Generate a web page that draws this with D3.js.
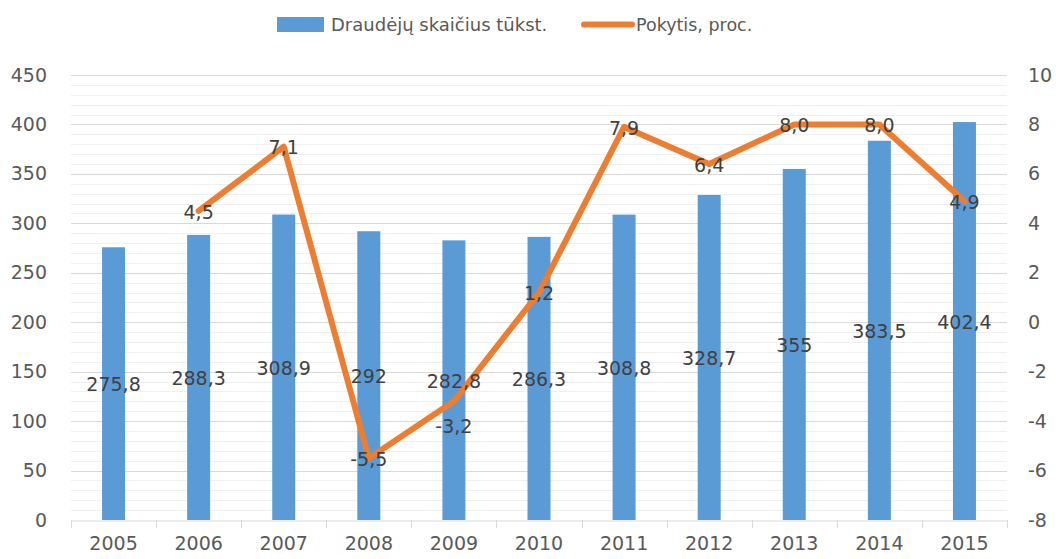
<!DOCTYPE html>
<html>
<head>
<meta charset="utf-8">
<script src="https://cdn.jsdelivr.net/npm/d3@7"></script>
<style>
  body { margin: 0; background: #fff; }
  svg { display: block; }
  svg text { font-family: "DejaVu Sans", sans-serif; }
</style>
</head>
<body>
<svg id="chart" width="1056" height="559"></svg>
<script>
var years = ['2005', '2006', '2007', '2008', '2009', '2010', '2011', '2012', '2013', '2014', '2015'];
var insured = [275.8, 288.3, 308.9, 292, 282.8, 286.3, 308.8, 328.7, 355, 383.5, 402.4];
var change = [null, 4.5, 7.1, -5.5, -3.2, 1.2, 7.9, 6.4, 8.0, 8.0, 4.9];
// Excel nudged the 2009 label below its point
var changeLabelDy = [0, 0, 0, 0, 24, 0, 0, 0, 0, 0, 0];
var leftTicks = [0, 50, 100, 150, 200, 250, 300, 350, 400, 450];
var rightTicks = [-8, -6, -4, -2, 0, 2, 4, 6, 8, 10];

var barColor = '#5b9bd5', lineColor = '#ed7d31';
var margin = { left: 71, right: 49, top: 75, bottom: 39 };
var W = 1056, H = 559;
var fs = '19px';

var svg = d3.select('#chart');

var x = d3.scaleBand().domain(years).range([margin.left, W - margin.right]);
var y = d3.scaleLinear().domain([0, 450]).range([H - margin.bottom, margin.top]);
var y2 = d3.scaleLinear().domain([-8, 10]).range([H - margin.bottom, margin.top]);

function comma(v) {
  return String(v).replace('.', ',');
}

// minor grid every 10, major every 50
svg.append('g')
    .selectAll('line')
    .data(d3.range(10, 450, 10).filter(function(v) { return v % 50 != 0; }))
    .enter()
    .append('line')
    .attr('x1', margin.left).attr('x2', W - margin.right)
    .attr('y1', function(d) { return Math.round(y(d)) + 0.5; })
    .attr('y2', function(d) { return Math.round(y(d)) + 0.5; })
    .attr('stroke', '#f0f0f0');

svg.append('g')
    .selectAll('line')
    .data(leftTicks.slice(1))
    .enter()
    .append('line')
    .attr('x1', margin.left).attr('x2', W - margin.right)
    .attr('y1', function(d) { return Math.round(y(d)) + 0.5; })
    .attr('y2', function(d) { return Math.round(y(d)) + 0.5; })
    .attr('stroke', '#d9d9d9');

// bars
var barW = 23;
svg.append('g')
    .selectAll('rect')
    .data(insured)
    .enter()
    .append('rect')
    .attr('x', function(d, i) { return x(years[i]) + x.bandwidth() / 2 - barW / 2; })
    .attr('y', function(d) { return y(d); })
    .attr('width', barW)
    .attr('height', function(d) { return y(0) - y(d); })
    .attr('fill', barColor);

function styleAxis(g) {
  g.attr('font-family', null).attr('font-size', null);
  g.selectAll('text').attr('fill', '#595959').style('font-size', fs);
}

// x axis
var xAxis = svg.append('g')
    .attr('transform', 'translate(0,' + (Math.round(y(0)) + 0.5) + ')')
    .call(d3.axisBottom(x).tickSize(0).tickPadding(19));
xAxis.select('.domain').attr('stroke', '#d9d9d9');
styleAxis(xAxis);
xAxis.selectAll('.tick').select('text').attr('dy', '0.55em');
svg.append('g')
    .selectAll('line')
    .data(years.concat(['end']))
    .enter()
    .append('line')
    .attr('x1', function(d, i) { return Math.round(i < years.length ? x(d) : x.range()[1]) + 0.5; })
    .attr('x2', function(d, i) { return Math.round(i < years.length ? x(d) : x.range()[1]) + 0.5; })
    .attr('y1', y(0)).attr('y2', y(0) + 8)
    .attr('stroke', '#d9d9d9');

// left axis
var yAxis = svg.append('g')
    .attr('transform', 'translate(' + (margin.left - 24) + ',0)')
    .call(d3.axisLeft(y).tickValues(leftTicks).tickSize(0).tickPadding(0));
yAxis.select('.domain').remove();
styleAxis(yAxis);

// right axis
var y2Axis = svg.append('g')
    .attr('transform', 'translate(' + (W - margin.right + 21) + ',0)')
    .call(d3.axisRight(y2).tickValues(rightTicks).tickSize(0).tickPadding(0)
        .tickFormat(function(d) { return String(d); }));
y2Axis.select('.domain').remove();
styleAxis(y2Axis);

// line
var pts = change.map(function(v, i) { return { v: v, i: i }; })
    .filter(function(p) { return p.v != null; });
var line = d3.line()
    .x(function(p) { return x(years[p.i]) + x.bandwidth() / 2; })
    .y(function(p) { return y2(p.v); });
svg.append('path')
    .datum(pts)
    .attr('d', line)
    .attr('fill', 'none')
    .attr('stroke', lineColor)
    .attr('stroke-width', 6)
    .attr('stroke-linejoin', 'round')
    .attr('stroke-linecap', 'round');

// bar labels centred in bars
svg.append('g')
    .selectAll('text')
    .data(insured)
    .enter()
    .append('text')
    .attr('x', function(d, i) { return x(years[i]) + x.bandwidth() / 2; })
    .attr('y', function(d) { return (y(d) + y(0)) / 2; })
    .attr('dy', '0.4em')
    .attr('text-anchor', 'middle')
    .attr('fill', '#404040')
    .style('font-size', fs)
    .text(function(d) { return comma(d); });

// line labels
svg.append('g')
    .selectAll('text')
    .data(pts)
    .enter()
    .append('text')
    .attr('x', function(p) { return x(years[p.i]) + x.bandwidth() / 2; })
    .attr('y', function(p) { return y2(p.v) + changeLabelDy[p.i]; })
    .attr('dy', '0.4em')
    .attr('text-anchor', 'middle')
    .attr('fill', '#404040')
    .style('font-size', fs)
    .text(function(p) { return p.v.toFixed(1).replace('.', ','); });

// legend
var lg = svg.append('g');
lg.append('rect').attr('x', 277).attr('y', 17).attr('width', 47).attr('height', 15).attr('fill', barColor);
lg.append('text').attr('x', 331).attr('y', 31).attr('fill', '#595959').style('font-size', '18px')
    .text('Draudėjų skaičius tūkst.');
lg.append('line').attr('x1', 584).attr('x2', 632).attr('y1', 24.5).attr('y2', 24.5)
    .attr('stroke', lineColor).attr('stroke-width', 6).attr('stroke-linecap', 'round');
lg.append('text').attr('x', 636).attr('y', 31).attr('fill', '#595959').style('font-size', '17.5px')
    .text('Pokytis, proc.');
</script>
</body>
</html>
